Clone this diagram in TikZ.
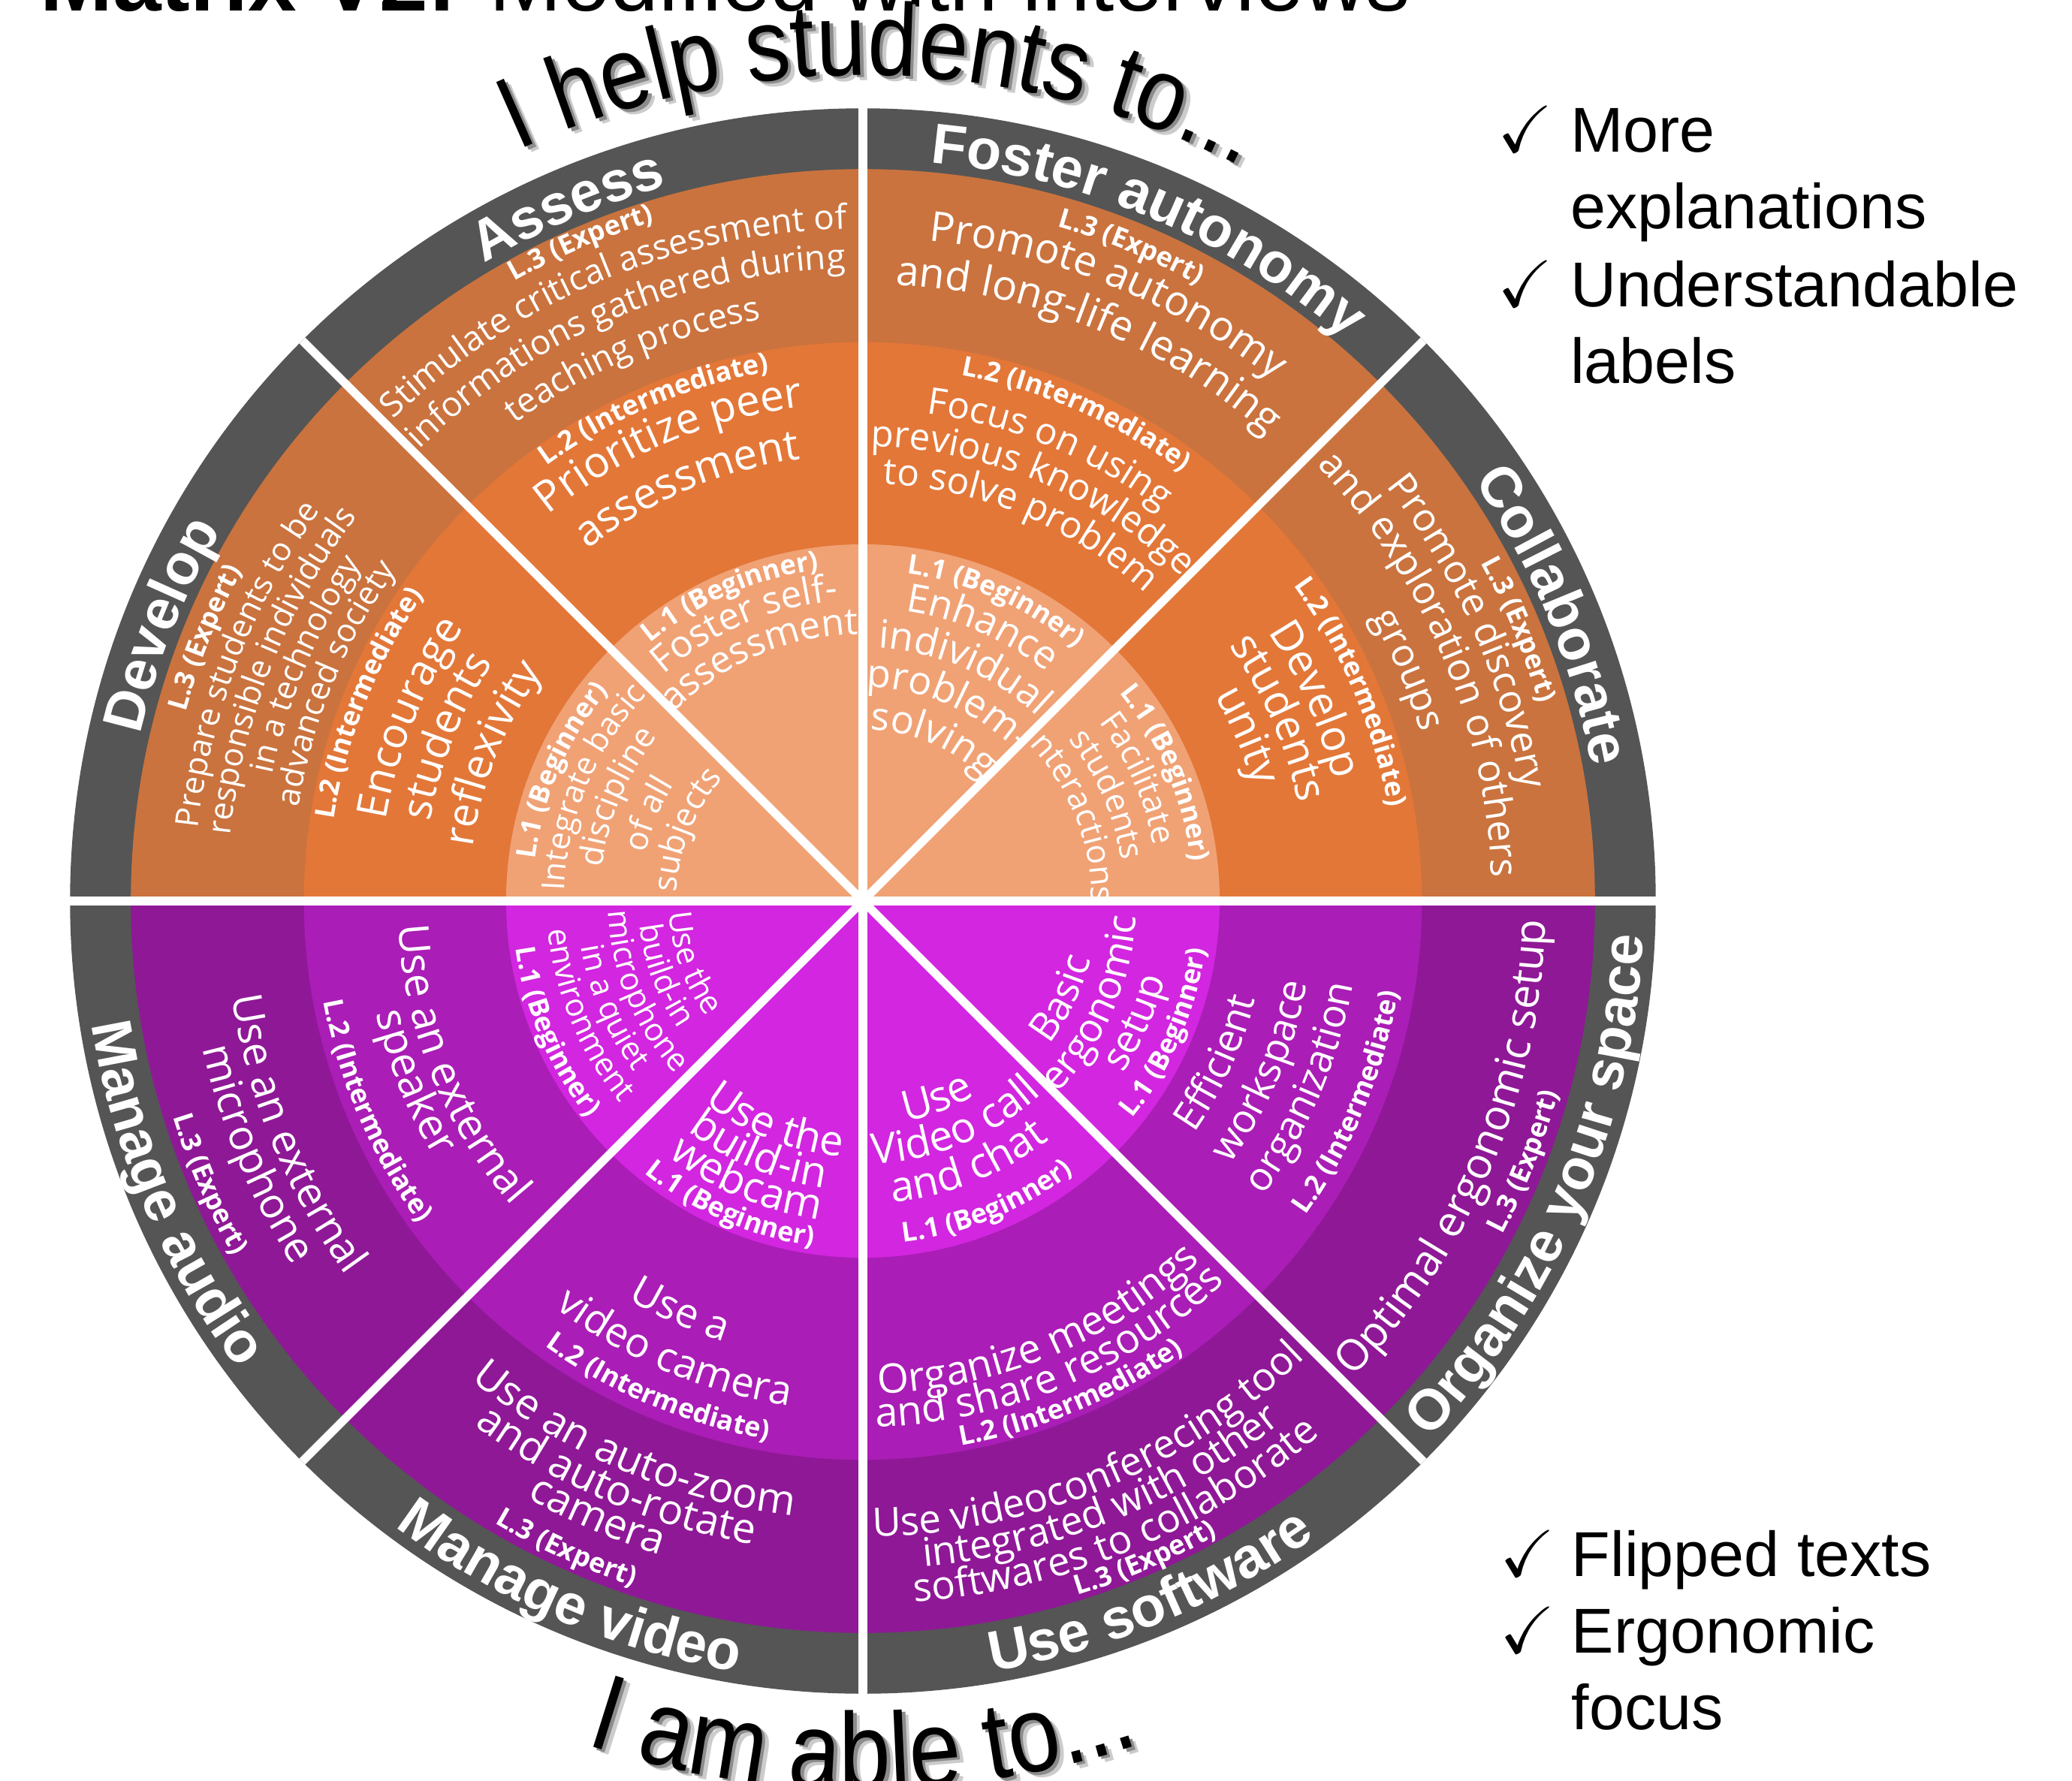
\documentclass[tikz,border=0pt]{standalone}
\usepackage{amssymb}
\usepackage{fontspec}
\setmainfont{Liberation Sans}
\newfontfamily\opensans{Open Sans}
\newfontfamily\wordart[FakeStretch=0.86]{Liberation Sans}
\usetikzlibrary{decorations.text}

\definecolor{ringgray}{HTML}{555555}
\definecolor{orgA}{HTML}{F0A275}
\definecolor{orgB}{HTML}{E37738}
\definecolor{orgC}{HTML}{CA733E}
\definecolor{purA}{HTML}{D226E0}
\definecolor{purB}{HTML}{AA1DB6}
\definecolor{purC}{HTML}{8F1897}

\newcommand{\lab}{\opensans\bfseries}
\newcommand{\ringlbl}{\normalfont\bfseries}
\newcommand{\wafont}{\wordart\fontsize{39}{39}\selectfont}
\newcommand{\wbfont}{\wordart\fontsize{41}{41}\selectfont}

% text on an arc, read clockwise (upper half)
\newcommand{\cw}[5][\opensans]{%
  \pgfmathsetmacro\arcA{#3+80}%
  \pgfmathsetmacro\arcB{#3-80}%
  \def\arcfont{#1\fontsize{#4}{#4}\selectfont}%
  \path[decorate,decoration={text along path,text align=center,text color=white,
      text={|\arcfont|#5}}]
    (\arcA:#2) arc[start angle=\arcA,end angle=\arcB,radius=#2];}
% text on an arc, read counter-clockwise (lower half)
\newcommand{\ccw}[5][\opensans]{%
  \pgfmathsetmacro\arcA{#3-80}%
  \pgfmathsetmacro\arcB{#3+80}%
  \def\arcfont{#1\fontsize{#4}{#4}\selectfont}%
  \path[decorate,decoration={text along path,text align=center,text color=white,
      text={|\arcfont|#5}}]
    (\arcA:#2) arc[start angle=\arcA,end angle=\arcB,radius=#2];}

\begin{document}
\begin{tikzpicture}[x=0.5pt,y=0.5pt,
    listtext/.style={anchor=base west,inner sep=0pt,font=\fontsize{24}{24}\selectfont},
    checkmk/.style={anchor=base west,inner sep=0pt,font=\fontsize{25}{25}\selectfont}]
  \useasboundingbox (-653,-666) rectangle (915,682);
  \fill[white] (-653,-666) rectangle (915,682);

  \node[anchor=base west,inner sep=0pt,font=\fontsize{33}{33}\selectfont] (title)
    at (-623,674) {\textbf{Matrix V2:} Modified with interviews};

  % arched headings with shadow
  \foreach \dx/\dy/\col in {5/-4/black!20,2.5/-2/black!45,0/0/black} {
    \path[xshift=\dx*0.5pt,yshift=\dy*0.5pt,decorate,decoration={text along path,
        text align=center,text color=\col,text={|\wafont|I help students to...}}]
      (168.7:625) arc[start angle=168.7,end angle=8.7,radius=625];
    \path[xshift=\dx*0.5pt,yshift=\dy*0.5pt,decorate,decoration={text along path,
        text align=center,text color=\col,text={|\wbfont|I am able to...}}]
      (190:672) arc[start angle=190,end angle=350,radius=672];
  }

  % wheel
  \fill[ringgray] (0,0) circle[radius=600];
  \fill[orgC] (0:554) arc[start angle=0,end angle=180,radius=554] -- cycle;
  \fill[orgB] (0:423) arc[start angle=0,end angle=180,radius=423] -- cycle;
  \fill[orgA] (0:270) arc[start angle=0,end angle=180,radius=270] -- cycle;
  \fill[purC] (180:554) arc[start angle=180,end angle=360,radius=554] -- cycle;
  \fill[purB] (180:423) arc[start angle=180,end angle=360,radius=423] -- cycle;
  \fill[purA] (180:270) arc[start angle=180,end angle=360,radius=270] -- cycle;

  % ring labels
  \cw[\ringlbl]{561}{113}{21.5}{Assess}
  \cw[\ringlbl]{561}{67}{21.5}{Foster autonomy}
  \cw[\ringlbl]{561}{22.5}{21.5}{Collaborate}
  \cw[\ringlbl]{561}{158.5}{21.5}{Develop}
  \ccw[\ringlbl]{591}{203}{21.5}{Manage audio}
  \ccw[\ringlbl]{591}{247}{21.5}{Manage video}
  \ccw[\ringlbl]{591}{292.5}{21.5}{Use software}
  \ccw[\ringlbl]{591}{337}{21.5}{Organize your space}

  % Assess
  \cw[\lab]{538}{113.2}{10.3}{L.3 (Expert)}
  \cw{509}{112.8}{13}{Stimulate critical assessment of}
  \cw{479}{113}{13}{informations gathered during}
  \cw{447}{113}{13}{teaching process}
  \cw[\lab]{407}{113}{10.3}{L.2 (Intermediate)}
  \cw{377}{113}{16.2}{Prioritize peer}
  \cw{338}{113}{16.2}{assessment}
  \cw[\lab]{253}{113.5}{10.3}{L.1 (Beginner)}
  \cw{228}{113}{14.2}{Foster self-}
  \cw{202}{113}{14.2}{assessment}

  % Foster autonomy
  \cw[\lab]{531}{67.7}{10.3}{L.3 (Expert)}
  \cw{502}{68}{15.7}{Promote autonomy}
  \cw{467}{68}{15.7}{and long-life learning}
  \cw[\lab]{405}{66.4}{10.3}{L.2 (Intermediate)}
  \cw{372}{67.6}{14}{Focus on using}
  \cw{344}{67.2}{14}{previous knowledge}
  \cw{316}{67.3}{14}{to solve problem}
  \cw[\lab]{250}{66.2}{10.3}{L.1 (Beginner)}
  \cw{222}{66.5}{14.8}{Enhance}
  \cw{192}{66.5}{14.8}{individual}
  \cw{162}{66.5}{14.8}{problem-}
  \cw{130}{66.5}{14.8}{solving}

  % Collaborate
  \cw[\lab]{533}{22.5}{10.3}{L.3 (Expert)}
  \cw{505}{24}{14.6}{Promote discovery}
  \cw{476}{23}{14.6}{and exploration of others}
  \cw{441}{23}{14.6}{groups}
  \cw[\lab]{404}{23.2}{10.3}{L.2 (Intermediate)}
  \cw{368}{24}{16.2}{Develop}
  \cw{338}{23.8}{16.2}{students}
  \cw{308}{23.3}{16.2}{unity}
  \cw[\lab]{250}{23}{10.3}{L.1 (Beginner)}
  \cw{224}{24}{12.5}{Facilitate}
  \cw{198}{23.5}{12.5}{students}
  \cw{173}{22.5}{12.5}{interactions}

  % Develop
  \cw[\lab]{532}{158.2}{10.3}{L.3 (Expert)}
  \cw{506}{159}{12.2}{Prepare students to be}
  \cw{481}{158.4}{12.3}{responsible individuals}
  \cw{457}{157}{12.3}{in a technology}
  \cw{433}{157.6}{12.3}{advanced society}
  \cw[\lab]{405}{158.2}{10.3}{L.2 (Intermediate)}
  \cw{366}{158}{16}{Encourage}
  \cw{333}{158.4}{16}{students}
  \cw{298}{158.3}{16}{reflexivity}
  \cw[\lab]{250}{156.6}{10.3}{L.1 (Beginner)}
  \cw{226}{157.2}{12}{Integrate basic}
  \cw{199}{157}{12.5}{discipline}
  \cw{168}{158}{12.5}{of all}
  \cw{141}{158}{12.5}{subjects}

  % Manage audio
  \ccw{483}{202.3}{15.8}{Use an external}
  \ccw{512}{202.6}{15.8}{microphone}
  \ccw[\lab]{547}{203.4}{10.3}{L.3 (Expert)}
  \ccw{352}{202}{16}{Use an external}
  \ccw{378}{202}{16}{speaker}
  \ccw[\lab]{415}{203.3}{10.3}{L.2 (Intermediate)}
  \ccw{147}{200}{12}{Use the}
  \ccw{170}{200.5}{12}{build-in}
  \ccw{193}{202.5}{12}{microphone}
  \ccw{216}{203}{12}{in a quiet}
  \ccw{239}{202.5}{12}{environment}
  \ccw[\lab]{265}{203}{10.3}{L.1 (Beginner)}

  % Manage video
  \ccw{468}{247.1}{15.8}{Use an auto-zoom}
  \ccw{494}{246.9}{15.8}{and auto-rotate}
  \ccw{518}{246.7}{15.8}{camera}
  \ccw[\lab]{547}{245.4}{10.3}{L.3 (Expert)}
  \ccw{350}{246}{15.5}{Use a}
  \ccw{386}{247.3}{15.5}{video camera}
  \ccw[\lab]{414}{247.2}{10.3}{L.2 (Intermediate)}
  \ccw{194}{248.5}{16}{Use the}
  \ccw{219}{247.5}{16}{build-in}
  \ccw{243}{247.4}{16}{webcam}
  \ccw[\lab]{264}{246.5}{10.3}{L.1 (Beginner)}

  % Use software
  \ccw{481}{292.5}{15}{Use videoconferecing tool}
  \ccw{506}{292}{15}{integrated with other}
  \ccw{532}{292.4}{15}{softwares to collaborate}
  \ccw[\lab]{550}{293.2}{10.3}{L.3 (Expert)}
  \ccw{373}{292.5}{15.4}{Organize meetings}
  \ccw{398}{292.5}{15.4}{and share resources}
  \ccw[\lab]{419}{292.8}{10.3}{L.2 (Intermediate)}
  \ccw{170}{290.5}{16}{Use}
  \ccw{199}{292.5}{16}{Video call}
  \ccw{229}{291.8}{16}{and chat}
  \ccw[\lab]{260}{292.3}{10.3}{L.1 (Beginner)}

  % Organize your space
  \ccw{517}{337.1}{16.2}{Optimal ergonomic setup}
  \ccw[\lab]{546}{338.5}{10.3}{L.3 (Expert)}
  \ccw{306}{335.5}{15}{Efficient}
  \ccw{342}{337}{15}{workspace}
  \ccw{376}{337}{15}{organization}
  \ccw[\lab]{411}{337.5}{10.3}{L.2 (Intermediate)}
  \ccw{178}{334}{15}{Basic}
  \ccw{207}{336}{15}{ergonomic}
  \ccw{236}{336}{15}{setup}
  \ccw[\lab]{262}{336.5}{10.3}{L.1 (Beginner)}

  % separators
  \foreach \a in {0,45,...,315}
    \draw[white,line width=3.2pt] (0,0) -- (\a:600);

  % notes
  \node[checkmk] (chk1) at (480,567) {$\checkmark$};
  \node[listtext] (more) at (535,567) {More};
  \node[listtext] (expl) at (535,509) {explanations};
  \node[checkmk] (chk2) at (480,450) {$\checkmark$};
  \node[listtext] (under) at (535,450) {Understandable};
  \node[listtext] (labels) at (535,392) {labels};

  \node[checkmk] (chk3) at (482,-511) {$\checkmark$};
  \node[listtext] (flip) at (536,-511) {Flipped texts};
  \node[checkmk] (chk4) at (482,-569) {$\checkmark$};
  \node[listtext] (ergo) at (536,-569) {Ergonomic};
  \node[listtext] (focus) at (536,-627) {focus};
\end{tikzpicture}
\end{document}
